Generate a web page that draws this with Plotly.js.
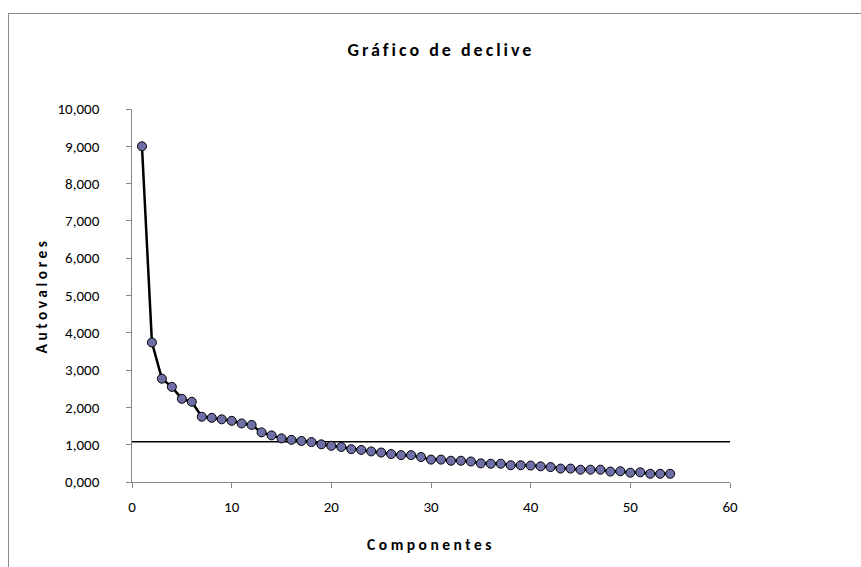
<!DOCTYPE html>
<html>
<head>
<meta charset="utf-8">
<script src="https://cdn.plot.ly/plotly-3.0.1.min.js"></script>
<style>
html,body{margin:0;padding:0;background:#fff;}
#frame{position:absolute;left:8px;top:13px;width:900px;height:600px;border-top:1px solid #8c8c8c;border-left:1px solid #8c8c8c;}
#chart{position:absolute;left:0;top:0;width:861px;height:567px;}
#chart .gtitle{letter-spacing:3px;}
#chart .xtitle, #chart .ytitle{letter-spacing:3.5px;}
</style>
</head>
<body>
<div id="frame"></div>
<div id="chart"></div>
<script>
const componentes = [1,2,3,4,5,6,7,8,9,10,11,12,13,14,15,16,17,18,19,20,21,22,23,24,25,26,27,28,29,30,31,32,33,34,35,36,37,38,39,40,41,42,43,44,45,46,47,48,49,50,51,52,53,54];
const autovalores = [9.00,3.74,2.77,2.55,2.23,2.15,1.75,1.72,1.68,1.64,1.57,1.53,1.33,1.25,1.17,1.13,1.10,1.07,1.01,0.97,0.94,0.88,0.86,0.82,0.79,0.75,0.72,0.72,0.67,0.60,0.60,0.57,0.57,0.55,0.50,0.49,0.49,0.45,0.45,0.44,0.42,0.40,0.36,0.36,0.33,0.33,0.33,0.28,0.29,0.25,0.26,0.22,0.22,0.22];
const refX = [0, 60];
const refY = [1.08, 1.08];
const yTickVals = [0,1,2,3,4,5,6,7,8,9,10];
const yTickText = ["0,000","1,000","2,000","3,000","4,000","5,000","6,000","7,000","8,000","9,000","10,000"];
const xTickVals = [0,10,20,30,40,50,60];

const font = "Carlito, 'Liberation Sans Narrow', 'Open Sans', Arial, sans-serif";
const pad = '\u00A0'.repeat(7);

const traces = [
  {x: refX, y: refY, mode: 'lines', line: {color: '#000', width: 1.5}, hoverinfo: 'skip', showlegend: false},
  {x: componentes, y: autovalores, mode: 'lines+markers',
   line: {color: '#000', width: 2.5},
   marker: {symbol: 'circle', size: 9, color: '#6f6fa8', line: {color: '#000', width: 1}},
   showlegend: false}
];

const layout = {
  width: 861, height: 567,
  paper_bgcolor: 'rgba(0,0,0,0)', plot_bgcolor: 'rgba(0,0,0,0)',
  margin: {l: 132, r: 131, t: 109, b: 84.5, pad: 0},
  font: {family: font, size: 15, color: '#000'},
  title: {text: '<b>Gráfico de declive</b>', x: 441/861, xanchor: 'center', xref: 'container',
          y: 1 - 50/567, yanchor: 'middle', yref: 'container',
          font: {family: font, size: 18, color: '#000'}},
  xaxis: {range: [0, 60], tickvals: xTickVals, ticks: 'outside', ticklen: 5, tickcolor: '#868686',
          showline: true, linecolor: '#868686', linewidth: 1, showgrid: false, zeroline: false,
          tickfont: {size: 15}, automargin: false, ticklabelstandoff: 6,
          title: {text: '<b>Componentes</b>', font: {size: 15.5}, standoff: 24}},
  yaxis: {range: [0, 10], tickvals: yTickVals, ticktext: yTickText.map(t => t + pad),
          ticks: 'outside', ticklen: 5, tickcolor: '#868686', automargin: false,
          showline: true, linecolor: '#868686', linewidth: 1, showgrid: false, zeroline: false,
          tickfont: {size: 15},
          title: {text: '<b>Autovalores</b>', font: {size: 15.5}, standoff: 6}}
};

Plotly.newPlot('chart', traces, layout, {displayModeBar: false, staticPlot: true});
</script>
</body>
</html>
